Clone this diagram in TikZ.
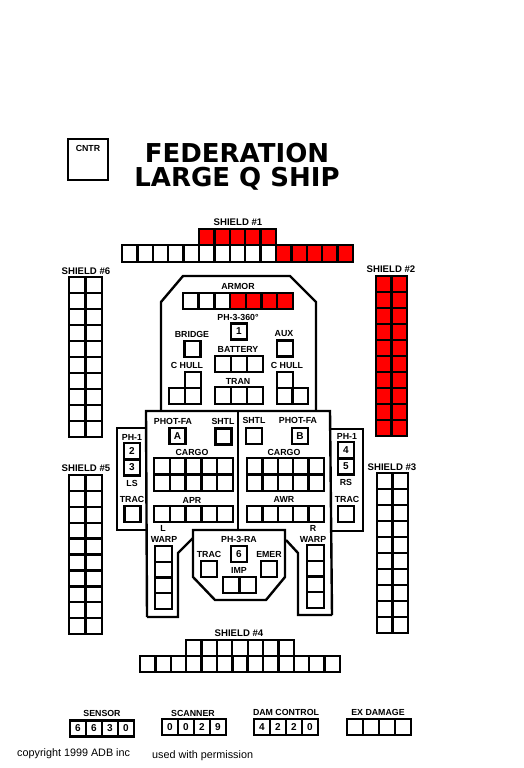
\documentclass[tikz,border=0pt]{standalone}
\usepackage{fontspec}
\setmainfont{Liberation Sans}
\newfontfamily\titlefont{DejaVu Sans}
\usepackage{xcolor}
\usepackage{tikz}
\usetikzlibrary{positioning}
\definecolor{shieldred}{RGB}{255,0,0}

\newcommand{\cellgrid}[7]{%
    \foreach \c in {1,...,#5} \foreach \r in {1,...,#6}
        \draw[cellbox, fill=#7] ({#1+(\c-1)*(#3-#1)/#5},{#2+(\r-1)*(#4-#2)/#6}) rectangle ({#1+\c*(#3-#1)/#5},{#2+\r*(#4-#2)/#6});
}

\begin{document}
\begin{tikzpicture}[x=1pt, y=-1pt,
        cellbox/.style={draw=black, line width=2.4pt},
        hull/.style={draw=black, line width=2.4pt, line join=miter},
        slot/.style={draw=black, line width=2.4pt, fill=white, outer sep=0pt, minimum width=16pt, minimum height=16pt, inner sep=0pt, font=\fontsize{10}{10}\selectfont\bfseries},
        lbl/.style={inner sep=0pt, font=\fontsize{8.8}{10}\selectfont\bfseries},
        shieldlbl/.style={inner sep=0pt, font=\fontsize{9.6}{10}\selectfont\bfseries},
        titletext/.style={inner sep=0pt, font=\titlefont\fontsize{26}{26}\selectfont\bfseries},
        notice/.style={inner sep=0pt, anchor=west, font=\fontsize{10.8}{12}\selectfont}
    ]
    \useasboundingbox (0,0) rectangle (523,768);

    % Heading
    \node[slot, minimum width=40pt, minimum height=41pt] (cntr) at (88,159.5) {};
    \node[lbl] (cntrlbl) at (88,148) {CNTR};
    \node[titletext] (federation) at (237,153) {FEDERATION};
    \node[titletext] (largeq) at (237,179) {LARGE Q SHIP};

    % Hull outlines
    \draw[hull] (161,410) -- (161,302) -- (183,276) -- (290,276) -- (316,302) -- (316,410);
    \draw[hull] (147,617) -- (146,411) -- (330,411) -- (332,615);
    \draw[hull] (238,411) -- (238,530);
    \draw[hull] (146,428) -- (117,428) -- (117,530) -- (146,530);
    \draw[hull] (330,429) -- (363,429) -- (363,531) -- (331,531);
    \draw[hull] (147,617) -- (178,617) -- (178,553) -- (193,538);
    \draw[hull] (332,615) -- (298,615) -- (298,553) -- (286,540);
    \draw[hull, fill=white] (193,530) -- (193,577) -- (215,600) -- (266,600) -- (285,577) -- (285,530) -- cycle;

    % Shield 1
    \node[shieldlbl] (s1lbl) at (238,222) {SHIELD \#1};
    \cellgrid{199}{229}{276}{245}{5}{1}{shieldred}
    \cellgrid{122}{245}{276}{262}{10}{1}{white}
    \cellgrid{276}{245}{353}{262}{5}{1}{shieldred}

    % Shields 6 and 5
    \node[shieldlbl] (s6lbl) at (86,271) {SHIELD \#6};
    \cellgrid{69}{277}{102}{437}{2}{10}{white}
    \node[shieldlbl] (s5lbl) at (86,468) {SHIELD \#5};
    \cellgrid{69}{475}{102}{634}{2}{10}{white}

    % Shields 2 and 3
    \node[shieldlbl] (s2lbl) at (391,269) {SHIELD \#2};
    \cellgrid{376}{276}{407}{436}{2}{10}{shieldred}
    \node[shieldlbl] (s3lbl) at (392,467) {SHIELD \#3};
    \cellgrid{377}{473}{408}{633}{2}{10}{white}

    % Forward section
    \node[lbl] (armorlbl) at (238,286) {ARMOR};
    \cellgrid{183}{293}{230}{309}{3}{1}{white}
    \cellgrid{230}{293}{293}{309}{4}{1}{shieldred}
    \node[lbl] (ph360lbl) at (238,317) {PH-3-360\textdegree};
    \node[slot] (ph360) at (239,331.5) {1};
    \node[lbl] (bridgelbl) at (192,334) {BRIDGE};
    \node[slot] (bridge) at (192.5,349) {};
    \node[lbl] (auxlbl) at (284,334) {AUX};
    \node[slot] (aux) at (285,348.5) {};
    \node[lbl] (batterylbl) at (238,349) {BATTERY};
    \cellgrid{215}{356}{263}{372}{3}{1}{white}
    \node[lbl] (chulllbl) at (187,365) {C HULL};
    \cellgrid{185}{372}{201}{388}{1}{1}{white}
    \cellgrid{169}{388}{201}{404}{2}{1}{white}
    \node[lbl] (chullrlbl) at (287,365) {C HULL};
    \cellgrid{277}{372}{293}{388}{1}{1}{white}
    \cellgrid{277}{388}{308}{404}{2}{1}{white}
    \node[lbl] (tranlbl) at (238,381) {TRAN};
    \cellgrid{215}{387}{263}{404}{3}{1}{white}

    % Left block
    \node[lbl] (photllbl) at (173,421) {PHOT-FA};
    \node[lbl] (shtllbl) at (223,421) {SHTL};
    \node[slot] (phota) at (177.5,436) {A};
    \node[slot] (shtll) at (223.5,436.5) {};
    \node[lbl] (cargollbl) at (192,452) {CARGO};
    \cellgrid{154}{458}{233}{491}{5}{2}{white}
    \node[lbl] (aprlbl) at (192,500) {APR};
    \cellgrid{154}{506}{233}{522}{5}{1}{white}

    % Right block
    \node[lbl] (shtrlbl) at (254,420) {SHTL};
    \node[lbl] (photrlbl) at (298,420) {PHOT-FA};
    \node[slot] (shtlr) at (254,436) {};
    \node[slot] (photb) at (300,436) {B};
    \node[lbl] (cargorlbl) at (284,452) {CARGO};
    \cellgrid{247}{458}{324}{491}{5}{2}{white}
    \node[lbl] (awrlbl) at (284,499) {AWR};
    \cellgrid{247}{506}{324}{522}{5}{1}{white}

    % Left wing
    \node[lbl] (phllbl) at (132,437) {PH-1};
    \node[slot] (ph2) at (132,451) {2};
    \node[slot] (ph3) at (132,467.5) {3};
    \node[lbl] (lslbl) at (132,483) {LS};
    \node[lbl] (tracllbl) at (132,499) {TRAC};
    \node[slot] (tracl) at (132.5,514) {};

    % Right wing
    \node[lbl] (phrlbl) at (347,436) {PH-1};
    \node[slot] (ph4) at (346,450) {4};
    \node[slot] (ph5) at (346,466.5) {5};
    \node[lbl] (rslbl) at (346,482) {RS};
    \node[lbl] (tracrlbl) at (347,499) {TRAC};
    \node[slot] (tracr) at (346,514) {};

    % Warp engines
    \node[lbl] (llbl) at (163,528) {L};
    \node[lbl] (warpllbl) at (164,539) {WARP};
    \cellgrid{155}{546}{172}{609}{1}{4}{white}
    \node[lbl] (rlbl) at (313,528) {R};
    \node[lbl] (warprlbl) at (313,539) {WARP};
    \cellgrid{307}{545}{324}{608}{1}{4}{white}

    % Aft section
    \node[lbl] (ph3ralbl) at (239,539) {PH-3-RA};
    \node[slot] (ph6) at (239,554) {6};
    \node[lbl] (tracalbl) at (209,554) {TRAC};
    \node[slot] (traca) at (209,569) {};
    \node[lbl] (emerlbl) at (269,554) {EMER};
    \node[slot] (emer) at (269,569) {};
    \node[lbl] (implbl) at (239,570) {IMP};
    \cellgrid{223}{577}{256}{593}{2}{1}{white}

    % Shield 4
    \node[shieldlbl] (s4lbl) at (239,633) {SHIELD \#4};
    \cellgrid{186}{640}{294}{656}{7}{1}{white}
    \cellgrid{140}{656}{340}{672}{13}{1}{white}

    % Readouts
    \node[lbl] (sensorlbl) at (102,713) {SENSOR};
    \node[slot] (sensora) at (78,728.5) {6};
    \node[slot, right=0pt of sensora] (sensorb) {6};
    \node[slot, right=0pt of sensorb] (sensorc) {3};
    \node[slot, right=0pt of sensorc] (sensord) {0};
    \node[lbl] (scannerlbl) at (193,713) {SCANNER};
    \node[slot] (scannera) at (170,727) {0};
    \node[slot, right=0pt of scannera] (scannerb) {0};
    \node[slot, right=0pt of scannerb] (scannerc) {2};
    \node[slot, right=0pt of scannerc] (scannerd) {9};
    \node[lbl] (damlbl) at (286,712) {DAM CONTROL};
    \node[slot] (dama) at (262,727) {4};
    \node[slot, right=0pt of dama] (damb) {2};
    \node[slot, right=0pt of damb] (damc) {2};
    \node[slot, right=0pt of damc] (damd) {0};
    \node[lbl] (exlbl) at (378,712) {EX DAMAGE};
    \node[slot] (exa) at (355,727) {};
    \node[slot, right=0pt of exa] (exb) {};
    \node[slot, right=0pt of exb] (exc) {};
    \node[slot, right=0pt of exc] (exd) {};

    % Notices
    \node[notice] (copynote) at (17,754) {copyright 1999 ADB inc};
    \node[notice] (usenote) at (152,756) {used with permission};
\end{tikzpicture}
\end{document}
